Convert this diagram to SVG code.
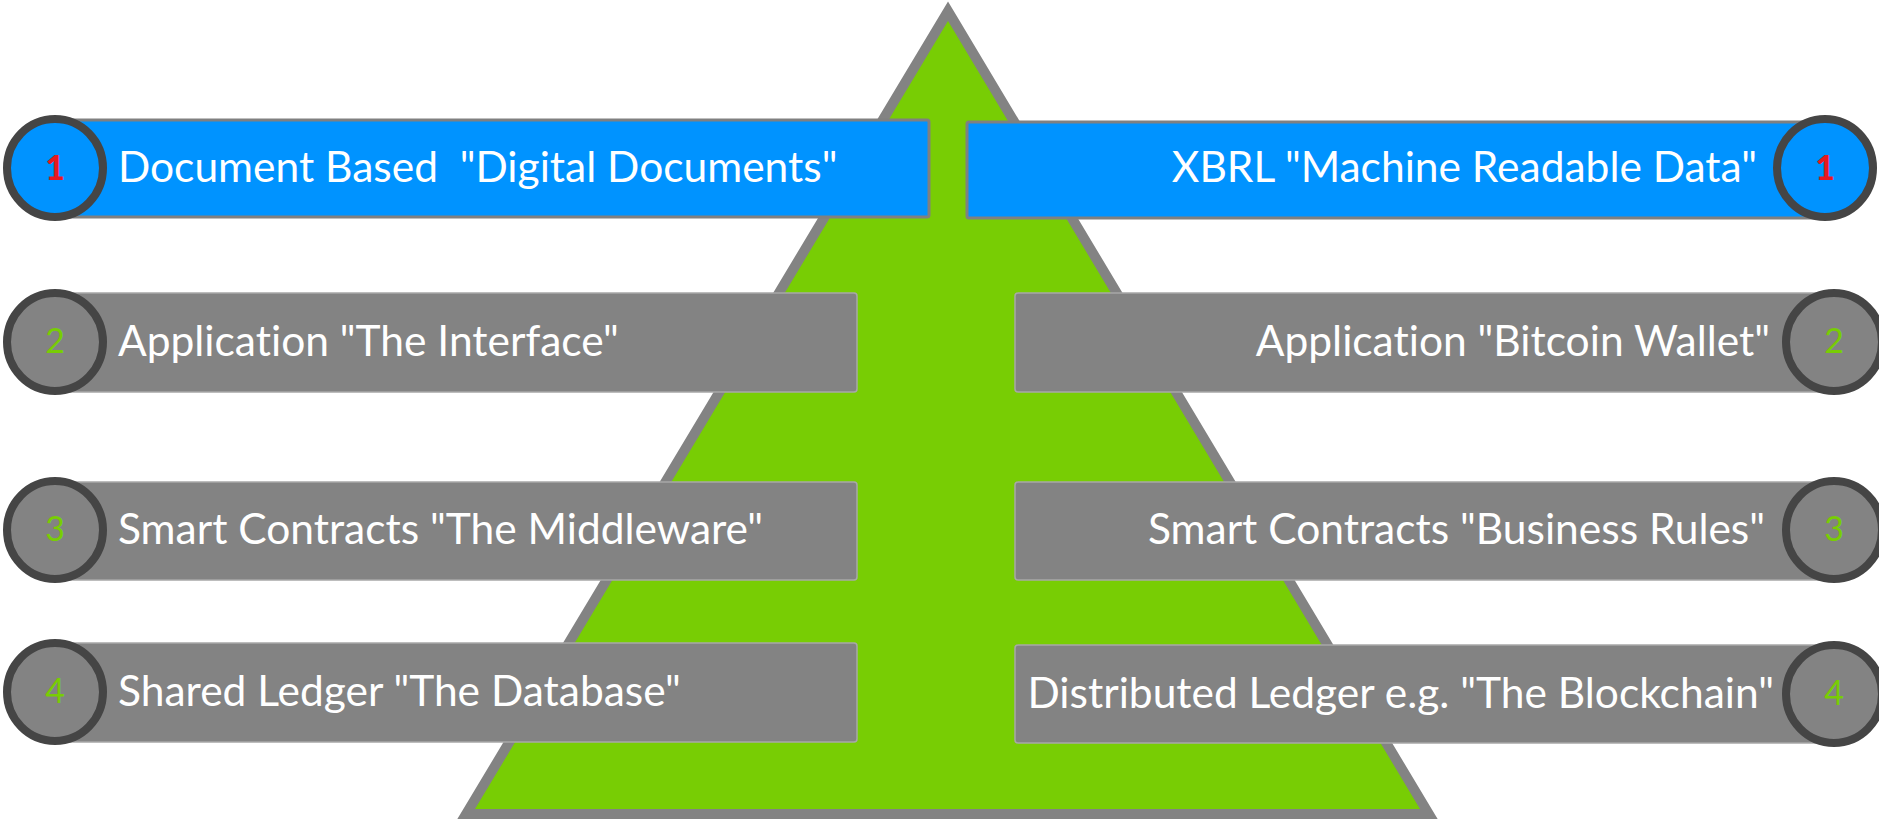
<svg xmlns="http://www.w3.org/2000/svg" width="1879" height="822" viewBox="0 0 1879 822">
  <style>
    .pyr { fill: #78CD04; stroke: #838383; stroke-width: 20; stroke-linejoin: miter; paint-order: stroke; }
    .barB { fill: #0093FF; stroke: #808080; stroke-width: 3; }
    .barG { fill: #838383; stroke: #a8a8a8; stroke-width: 1.5; }
    .circB { fill: #0093FF; stroke: #454545; stroke-width: 8; }
    .circG { fill: #838383; stroke: #454545; stroke-width: 8; }
    .lbl { font-family: Lato, "Liberation Sans", sans-serif; font-size: 42.5px; fill: #ffffff; white-space: pre; font-variant-ligatures: none; }
    .num { font-family: Lato, "Liberation Sans", sans-serif; font-size: 34px; text-anchor: middle; font-variant-ligatures: none; }
    .red { fill: #E8191F; font-weight: 900; }
    .grn { fill: #78CD04; }
  </style>

  <g id="pyramid">
    <polygon class="pyr" points="948,21 1420,809 475,809"/>
  </g>

  <g id="connectors"></g>

  <g id="left-1">
    <rect class="barB" x="55" y="120" width="874" height="97" rx="2"/>
    <ellipse class="circB" cx="55" cy="168" rx="48" ry="49"/>
    <text class="num red" x="55" y="180">1</text>
    <text class="lbl" x="118" y="182" xml:space="preserve">Document Based  "Digital Documents"</text>
  </g>

  <g id="right-1">
    <rect class="barB" x="967" y="122" width="858" height="96" rx="2"/>
    <ellipse class="circB" cx="1825" cy="168" rx="48" ry="49"/>
    <text class="num red" x="1825" y="180">1</text>
    <text class="lbl" x="1757" y="182" text-anchor="end">XBRL "Machine Readable Data"</text>
  </g>

  <g id="left-2">
    <rect class="barG" x="55" y="293" width="802" height="99" rx="3"/>
    <ellipse class="circG" cx="55" cy="342" rx="48" ry="49"/>
    <text class="num grn" x="55" y="353">2</text>
    <text class="lbl" x="118" y="356">Application "The Interface"</text>
  </g>

  <g id="right-2">
    <rect class="barG" x="1015" y="293" width="819" height="99" rx="3"/>
    <ellipse class="circG" cx="1834" cy="342" rx="48" ry="49"/>
    <text class="num grn" x="1834" y="353">2</text>
    <text class="lbl" x="1770" y="356" text-anchor="end">Application "Bitcoin Wallet"</text>
  </g>

  <g id="left-3">
    <rect class="barG" x="55" y="482" width="802" height="98" rx="3"/>
    <ellipse class="circG" cx="55" cy="530" rx="48" ry="49"/>
    <text class="num grn" x="55" y="541">3</text>
    <text class="lbl" x="118" y="544">Smart Contracts "The Middleware"</text>
  </g>

  <g id="right-3">
    <rect class="barG" x="1015" y="482" width="819" height="98" rx="3"/>
    <ellipse class="circG" cx="1834" cy="530" rx="48" ry="49"/>
    <text class="num grn" x="1834" y="541">3</text>
    <text class="lbl" x="1765" y="544" text-anchor="end">Smart Contracts "Business Rules"</text>
  </g>

  <g id="left-4">
    <rect class="barG" x="55" y="643" width="802" height="99" rx="3"/>
    <ellipse class="circG" cx="55" cy="692" rx="48" ry="49"/>
    <text class="num grn" x="55" y="703">4</text>
    <text class="lbl" x="118" y="706">Shared Ledger "The Database"</text>
  </g>

  <g id="right-4">
    <rect class="barG" x="1015" y="645" width="819" height="98" rx="3"/>
    <ellipse class="circG" cx="1834" cy="694" rx="48" ry="49"/>
    <text class="num grn" x="1834" y="705">4</text>
    <text class="lbl" x="1774" y="708" text-anchor="end">Distributed Ledger e.g. "The Blockchain"</text>
  </g>
</svg>
